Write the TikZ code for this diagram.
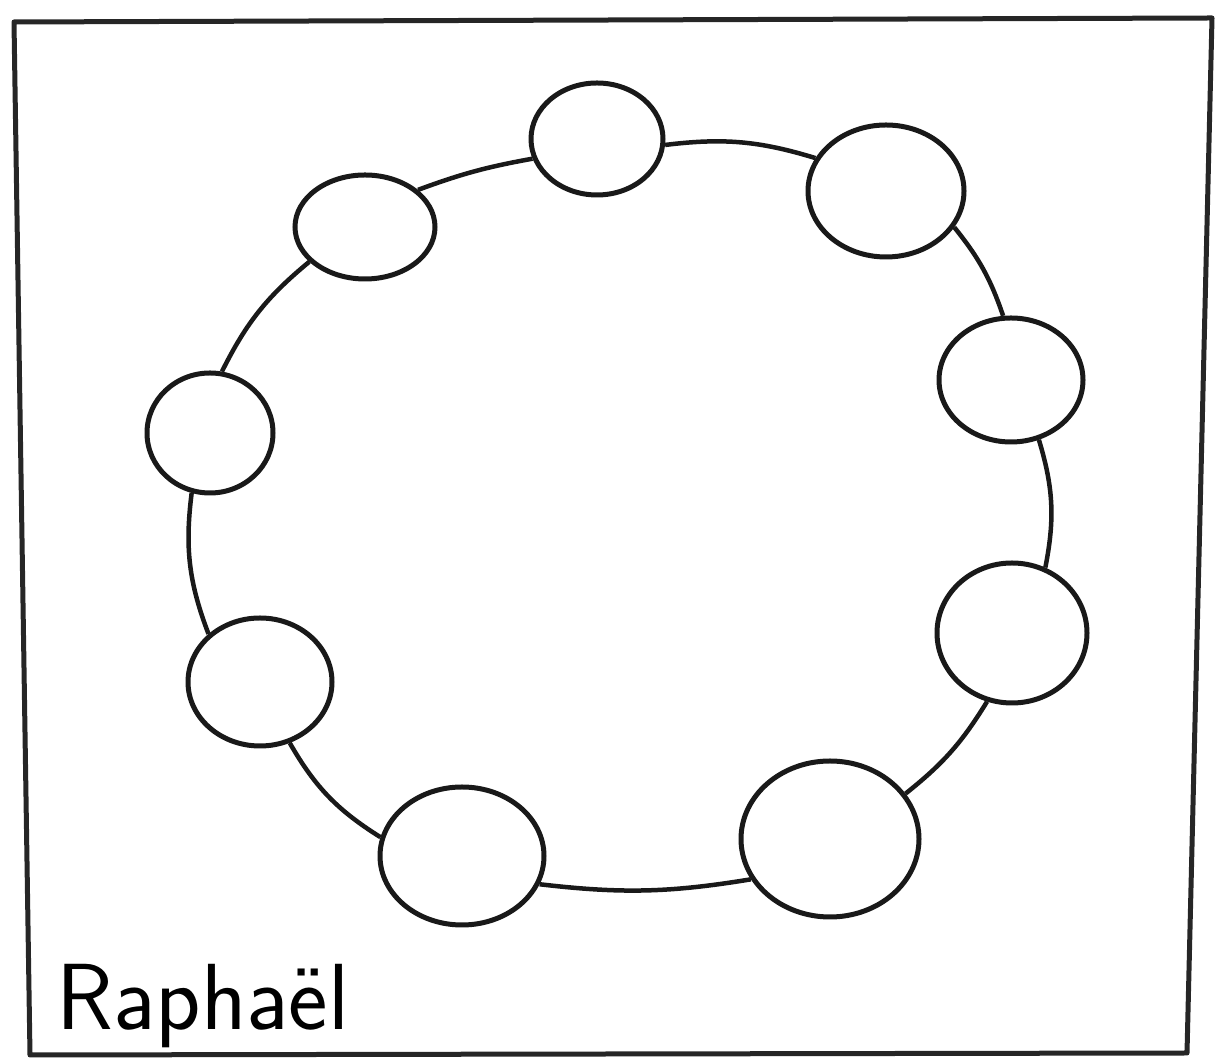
\documentclass[tikz,border=0pt]{standalone}
\usetikzlibrary{shapes.geometric}
\begin{document}
\begin{tikzpicture}[x=1pt,y=1pt,
  bead/.style={draw=black!90,line width=5pt,ellipse,inner sep=0pt},
  link/.style={draw=black!90,line width=4.5pt},
  frame/.style={draw=black!85,line width=5pt,line join=round}]
\useasboundingbox (0,0) rectangle (1224,1062);
\draw[frame] (14,1040) -- (1212,1044) -- (1187,9) -- (30,7) -- cycle;
\node[bead,minimum width=132pt,minimum height=112pt] (n1) at (597,923) {};
\node[bead,minimum width=156pt,minimum height=132pt] (n2) at (886,871) {};
\node[bead,minimum width=144pt,minimum height=124pt] (n3) at (1011,682) {};
\node[bead,minimum width=150pt,minimum height=140pt] (n4) at (1012,429) {};
\node[bead,minimum width=178pt,minimum height=156pt] (n5) at (830,223) {};
\node[bead,minimum width=164pt,minimum height=138pt] (n6) at (462,206) {};
\node[bead,minimum width=144pt,minimum height=128pt] (n7) at (260,380) {};
\node[bead,minimum width=126pt,minimum height=120pt] (n8) at (210,629) {};
\node[bead,minimum width=140pt,minimum height=104pt] (n9) at (365,835) {};
\draw[link] (n1.-5) to[bend left=12] (n2.155);
\draw[link] (n2.-28) to[bend left=10] (n3.97);
\draw[link] (n3.-65) to[bend left=14] (n4.63);
\draw[link] (n4.-110) to[bend left=10] (n5.31);
\draw[link] (n5.207) to[bend left=8] (n6.-20);
\draw[link] (n6.167) to[bend left=14] (n7.-64);
\draw[link] (n7.137) to[bend left=14] (n8.-107);
\draw[link] (n8.79) to[bend left=12] (n9.212);
\draw[link] (n9.35) to[bend left=5] (n1.197);
\node[anchor=base west,inner sep=0pt,font=\sffamily\fontsize{94}{100}\selectfont] (label) at (56,32) {Raphaël};
\end{tikzpicture}
\end{document}
